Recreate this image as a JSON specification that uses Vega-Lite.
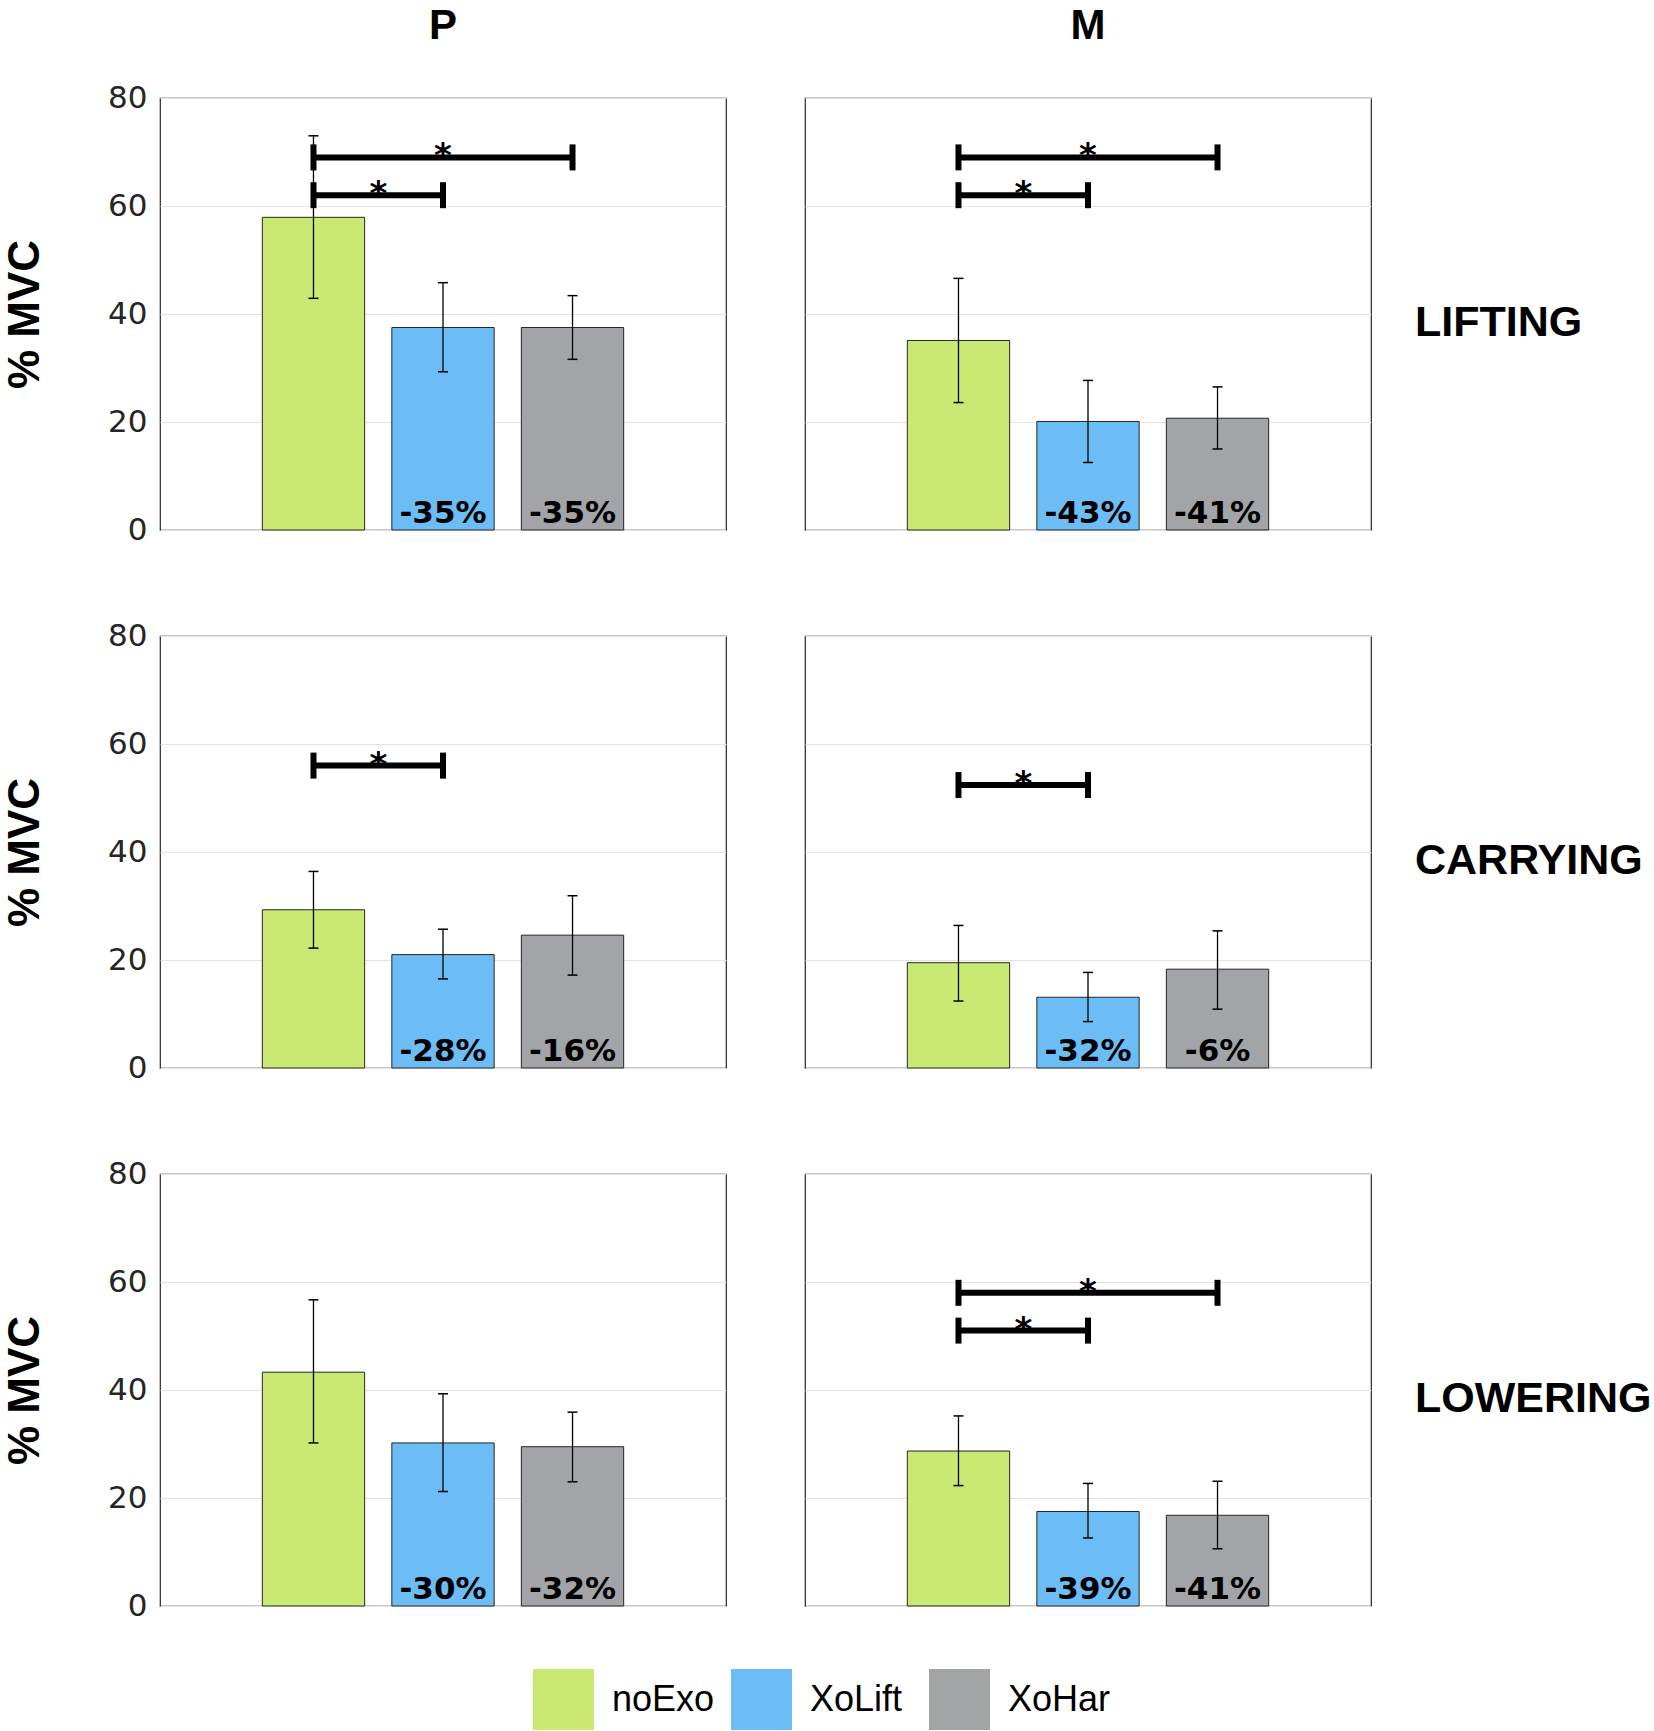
{
  "$schema": "https://vega.github.io/schema/vega-lite/v6.json",
  "background": "white",
  "padding": {"left": 3, "top": 5, "right": 0, "bottom": 0},
  "data": {"values": [
    {"type": "bar", "task": "LIFTING", "muscle": "P", "cond": "noExo", "mean": 57.9, "lo": 42.9, "hi": 73.0, "pct": null},
    {"type": "bar", "task": "LIFTING", "muscle": "P", "cond": "XoLift", "mean": 37.5, "lo": 29.3, "hi": 45.8, "pct": "-35%"},
    {"type": "bar", "task": "LIFTING", "muscle": "P", "cond": "XoHar", "mean": 37.5, "lo": 31.6, "hi": 43.4, "pct": "-35%"},
    {"type": "bar", "task": "LIFTING", "muscle": "M", "cond": "noExo", "mean": 35.1, "lo": 23.6, "hi": 46.6, "pct": null},
    {"type": "bar", "task": "LIFTING", "muscle": "M", "cond": "XoLift", "mean": 20.1, "lo": 12.5, "hi": 27.7, "pct": "-43%"},
    {"type": "bar", "task": "LIFTING", "muscle": "M", "cond": "XoHar", "mean": 20.7, "lo": 15.0, "hi": 26.5, "pct": "-41%"},
    {"type": "bar", "task": "CARRYING", "muscle": "P", "cond": "noExo", "mean": 29.3, "lo": 22.2, "hi": 36.4, "pct": null},
    {"type": "bar", "task": "CARRYING", "muscle": "P", "cond": "XoLift", "mean": 21.0, "lo": 16.5, "hi": 25.7, "pct": "-28%"},
    {"type": "bar", "task": "CARRYING", "muscle": "P", "cond": "XoHar", "mean": 24.6, "lo": 17.2, "hi": 31.9, "pct": "-16%"},
    {"type": "bar", "task": "CARRYING", "muscle": "M", "cond": "noExo", "mean": 19.5, "lo": 12.4, "hi": 26.4, "pct": null},
    {"type": "bar", "task": "CARRYING", "muscle": "M", "cond": "XoLift", "mean": 13.1, "lo": 8.6, "hi": 17.7, "pct": "-32%"},
    {"type": "bar", "task": "CARRYING", "muscle": "M", "cond": "XoHar", "mean": 18.3, "lo": 10.9, "hi": 25.4, "pct": "-6%"},
    {"type": "bar", "task": "LOWERING", "muscle": "P", "cond": "noExo", "mean": 43.3, "lo": 30.2, "hi": 56.7, "pct": null},
    {"type": "bar", "task": "LOWERING", "muscle": "P", "cond": "XoLift", "mean": 30.2, "lo": 21.2, "hi": 39.3, "pct": "-30%"},
    {"type": "bar", "task": "LOWERING", "muscle": "P", "cond": "XoHar", "mean": 29.5, "lo": 23.0, "hi": 35.9, "pct": "-32%"},
    {"type": "bar", "task": "LOWERING", "muscle": "M", "cond": "noExo", "mean": 28.7, "lo": 22.3, "hi": 35.2, "pct": null},
    {"type": "bar", "task": "LOWERING", "muscle": "M", "cond": "XoLift", "mean": 17.5, "lo": 12.6, "hi": 22.7, "pct": "-39%"},
    {"type": "bar", "task": "LOWERING", "muscle": "M", "cond": "XoHar", "mean": 16.8, "lo": 10.6, "hi": 23.1, "pct": "-41%"},
    {"type": "sig", "task": "LIFTING", "muscle": "P", "bid": "LP1", "span": "long", "end": "start", "cond": "noExo", "level": 69},
    {"type": "sig", "task": "LIFTING", "muscle": "P", "bid": "LP1", "span": "long", "end": "stop", "cond": "XoHar", "level": 69},
    {"type": "sig", "task": "LIFTING", "muscle": "P", "bid": "LP2", "span": "short", "end": "start", "cond": "noExo", "level": 62},
    {"type": "sig", "task": "LIFTING", "muscle": "P", "bid": "LP2", "span": "short", "end": "stop", "cond": "XoLift", "level": 62},
    {"type": "sig", "task": "LIFTING", "muscle": "M", "bid": "LM1", "span": "long", "end": "start", "cond": "noExo", "level": 69},
    {"type": "sig", "task": "LIFTING", "muscle": "M", "bid": "LM1", "span": "long", "end": "stop", "cond": "XoHar", "level": 69},
    {"type": "sig", "task": "LIFTING", "muscle": "M", "bid": "LM2", "span": "short", "end": "start", "cond": "noExo", "level": 62},
    {"type": "sig", "task": "LIFTING", "muscle": "M", "bid": "LM2", "span": "short", "end": "stop", "cond": "XoLift", "level": 62},
    {"type": "sig", "task": "CARRYING", "muscle": "P", "bid": "CP1", "span": "short", "end": "start", "cond": "noExo", "level": 56},
    {"type": "sig", "task": "CARRYING", "muscle": "P", "bid": "CP1", "span": "short", "end": "stop", "cond": "XoLift", "level": 56},
    {"type": "sig", "task": "CARRYING", "muscle": "M", "bid": "CM1", "span": "short", "end": "start", "cond": "noExo", "level": 52.4},
    {"type": "sig", "task": "CARRYING", "muscle": "M", "bid": "CM1", "span": "short", "end": "stop", "cond": "XoLift", "level": 52.4},
    {"type": "sig", "task": "LOWERING", "muscle": "M", "bid": "WM1", "span": "long", "end": "start", "cond": "noExo", "level": 58},
    {"type": "sig", "task": "LOWERING", "muscle": "M", "bid": "WM1", "span": "long", "end": "stop", "cond": "XoHar", "level": 58},
    {"type": "sig", "task": "LOWERING", "muscle": "M", "bid": "WM2", "span": "short", "end": "start", "cond": "noExo", "level": 51},
    {"type": "sig", "task": "LOWERING", "muscle": "M", "bid": "WM2", "span": "short", "end": "stop", "cond": "XoLift", "level": 51}
  ]},
  "facet": {
    "row": {"field": "task", "type": "nominal", "sort": ["LIFTING", "CARRYING", "LOWERING"],
      "header": {"title": null, "labelOrient": "right", "labelAngle": 0, "labelAlign": "right",
        "labelBaseline": "line-top", "labelLineHeight": 20,
        "labelFont": "Liberation Sans", "labelFontWeight": "bold", "labelFontSize": 43, "labelColor": "black", "labelPadding": 43}},
    "column": {"field": "muscle", "type": "nominal", "sort": ["P", "M"],
      "header": {"title": null, "labelOrient": "top", "labelBaseline": "alphabetic",
        "labelFont": "Liberation Sans", "labelFontWeight": "bold", "labelFontSize": 42, "labelColor": "black", "labelPadding": 16}}
  },
  "spacing": {"row": 103, "column": 77},
  "spec": {
    "width": 566,
    "height": 432,
    "encoding": {
      "x": {"field": "cond", "type": "nominal", "sort": ["noExo", "XoLift", "XoHar"],
        "scale": {"paddingInner": 0.21, "paddingOuter": 0.79}, "axis": null}
    },
    "layer": [
      {
        "transform": [{"filter": "datum.type == 'bar'"}],
        "mark": {"type": "bar", "stroke": "#262626", "strokeWidth": 1},
        "encoding": {
          "y": {"field": "mean", "type": "quantitative",
            "scale": {"domain": [0, 80], "nice": false},
            "axis": {"title": "% MVC", "values": [0, 20, 40, 60, 80], "grid": true, "gridColor": "#e3e3e3",
              "domain": false, "ticks": false, "labelFont": "DejaVu Sans", "labelFontSize": 31, "labelColor": "#262626",
              "labelPadding": 12, "titleFont": "Liberation Sans", "titleFontWeight": "bold", "titleFontSize": 44,
              "titleColor": "black", "titlePadding": 60}},
          "color": {"field": "cond", "type": "nominal",
            "scale": {"domain": ["noExo", "XoLift", "XoHar"], "range": ["#C9E972", "#6CBDF6", "#A3A4A8"]},
            "legend": {"title": null, "orient": "none", "direction": "horizontal", "legendX": 373, "legendY": 1571,
              "gridAlign": "all",
              "symbolType": "square", "symbolSize": 3721, "symbolStrokeWidth": 0, "symbolOpacity": 1,
              "labelFont": "Liberation Sans", "labelFontSize": 36, "labelColor": "black", "labelOffset": 18,
              "columnPadding": 16}}
        }
      },
      {
        "transform": [{"filter": "datum.type == 'bar'"}],
        "mark": {"type": "rule", "color": "black", "strokeWidth": 1.3},
        "encoding": {"y": {"field": "lo", "type": "quantitative"}, "y2": {"field": "hi"}}
      },
      {
        "transform": [{"filter": "datum.type == 'bar'"}],
        "mark": {"type": "tick", "color": "black", "opacity": 1, "size": 10, "thickness": 1.5},
        "encoding": {"y": {"field": "lo", "type": "quantitative"}}
      },
      {
        "transform": [{"filter": "datum.type == 'bar'"}],
        "mark": {"type": "tick", "color": "black", "opacity": 1, "size": 10, "thickness": 1.5},
        "encoding": {"y": {"field": "hi", "type": "quantitative"}}
      },
      {
        "transform": [{"filter": "datum.type == 'bar' && isValid(datum.pct)"}],
        "mark": {"type": "text", "font": "DejaVu Sans", "fontWeight": "bold", "fontSize": 31, "color": "black",
          "baseline": "alphabetic", "align": "center", "dy": -7},
        "encoding": {"y": {"datum": 0, "type": "quantitative"}, "text": {"field": "pct"}}
      },
      {
        "transform": [{"filter": "datum.type == 'sig'"}],
        "mark": {"type": "line", "color": "black", "strokeWidth": 6, "strokeCap": "butt", "opacity": 1},
        "encoding": {"y": {"field": "level", "type": "quantitative"}, "detail": {"field": "bid"}}
      },
      {
        "transform": [{"filter": "datum.type == 'sig'"}],
        "mark": {"type": "tick", "orient": "vertical", "color": "black", "opacity": 1, "size": 26, "thickness": 6},
        "encoding": {"y": {"field": "level", "type": "quantitative"}}
      },
      {
        "transform": [{"filter": "datum.type == 'sig' && datum.end == 'start' && datum.span == 'short'"}],
        "mark": {"type": "text", "text": "*", "font": "DejaVu Sans", "fontWeight": "bold", "fontSize": 34, "color": "black",
          "baseline": "alphabetic", "align": "center", "dx": 65, "dy": 10},
        "encoding": {"y": {"field": "level", "type": "quantitative"}}
      },
      {
        "transform": [{"filter": "datum.type == 'sig' && datum.end == 'start' && datum.span == 'long'"}],
        "mark": {"type": "text", "text": "*", "font": "DejaVu Sans", "fontWeight": "bold", "fontSize": 34, "color": "black",
          "baseline": "alphabetic", "align": "center", "dx": 129.5, "dy": 10},
        "encoding": {"y": {"field": "level", "type": "quantitative"}}
      }
    ]
  },
  "config": {
    "view": {"stroke": "#262626", "strokeWidth": 1.2},
    "axis": {"gridWidth": 1}
  }
}
